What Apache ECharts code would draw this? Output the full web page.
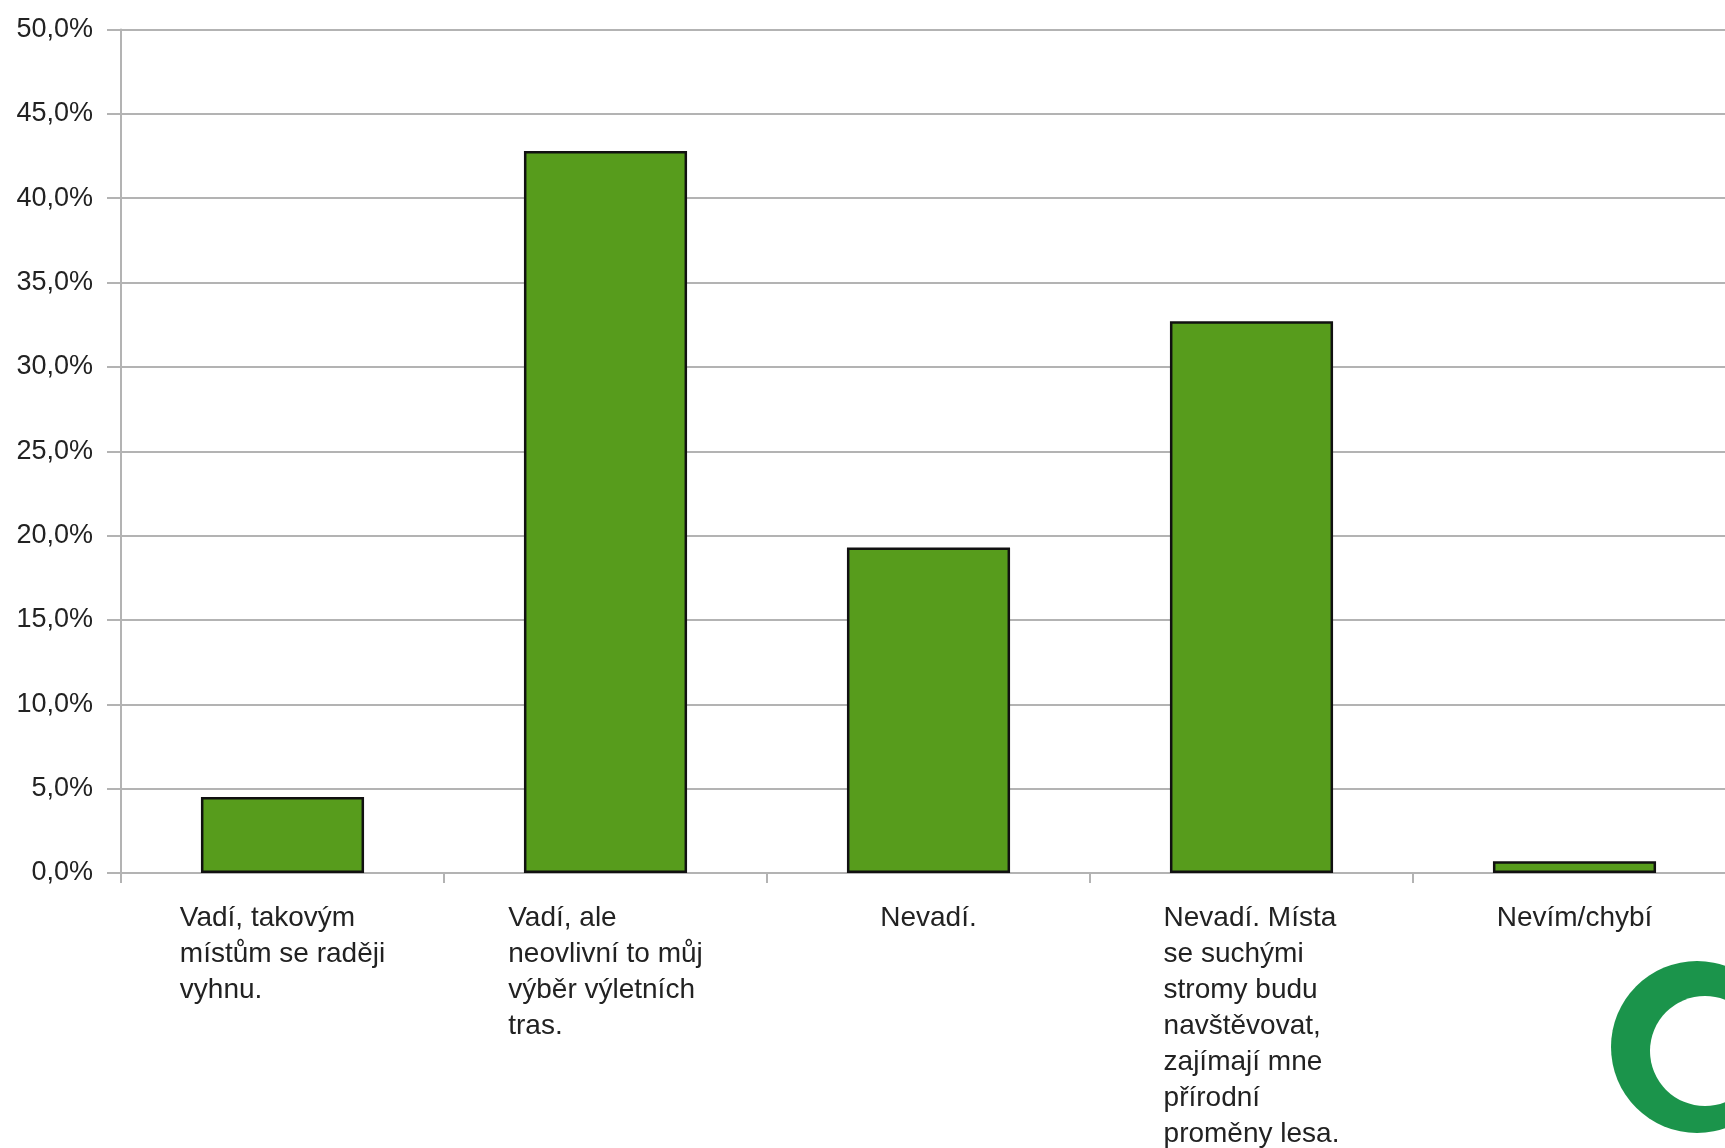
<!DOCTYPE html>
<html>
<head>
<meta charset="utf-8">
<script src="https://cdn.jsdelivr.net/npm/echarts@6/dist/echarts.min.js"></script>
<style>
html,body{margin:0;padding:0;background:#fff;}
#chart{width:1725px;height:1148px;}
</style>
</head>
<body>
<div id="chart"></div>
<script>
const categories = [
  "Vadí, takovým\nmístům se raději\nvyhnu.",
  "Vadí, ale\nneovlivní to můj\nvýběr výletních\ntras.",
  "Nevadí.",
  "Nevadí. Místa\nse suchými\nstromy budu\nnavštěvovat,\nzajímají mne\npřírodní\nproměny lesa.",
  "Nevím/chybí"
];
const values = [4.5, 42.8, 19.3, 32.7, 0.7];
const yMin = 0, yMax = 50, yStep = 5;

const chart = echarts.init(document.getElementById('chart'), null, {renderer: 'canvas'});
const font = 'Liberation Sans, Arial, sans-serif';
chart.setOption({
  animation: false,
  backgroundColor: '#ffffff',
  grid: {left: 121, top: 29.5, right: -11, bottom: 275, containLabel: false, outerBoundsMode: 'none'},
  xAxis: {
    type: 'category',
    data: categories,
    boundaryGap: true,
    axisLine: {show: true, lineStyle: {color: '#b3b3b3', width: 2}},
    axisTick: {show: true, length: 10, alignWithLabel: false, lineStyle: {color: '#b3b3b3', width: 2}},
    axisLabel: {
      interval: 0,
      margin: 27,
      align: 'center',
      verticalAlign: 'top',
      formatter: v => v.split('\n').map(s => '{a|' + s + '}').join('\n'),
      rich: {a: {fontFamily: font, fontSize: 28, lineHeight: 36, color: '#222222', align: 'left'}}
    },
    splitLine: {show: false}
  },
  yAxis: {
    type: 'value',
    min: yMin, max: yMax, interval: yStep,
    axisLine: {show: true, lineStyle: {color: '#b3b3b3', width: 2}},
    axisTick: {show: true, length: 14, lineStyle: {color: '#b3b3b3', width: 2}},
    axisLabel: {
      margin: 28,
      fontFamily: font, fontSize: 27, color: '#222222',
      formatter: v => v.toFixed(1).replace('.', ',') + '%'
    },
    splitLine: {show: true, lineStyle: {color: '#b3b3b3', width: 2}}
  },
  series: [{
    type: 'bar',
    data: values,
    barWidth: '50.5%',
    itemStyle: {color: '#579c1c', borderColor: '#111111', borderWidth: 2.5}
  }],
  graphic: [
    {type: 'circle', shape: {cx: 1697, cy: 1047, r: 86}, style: {fill: '#1b944b'}, z: 100},
    {type: 'circle', shape: {cx: 1705, cy: 1051, r: 55}, style: {fill: '#ffffff'}, z: 101}
  ]
});
</script>
</body>
</html>
